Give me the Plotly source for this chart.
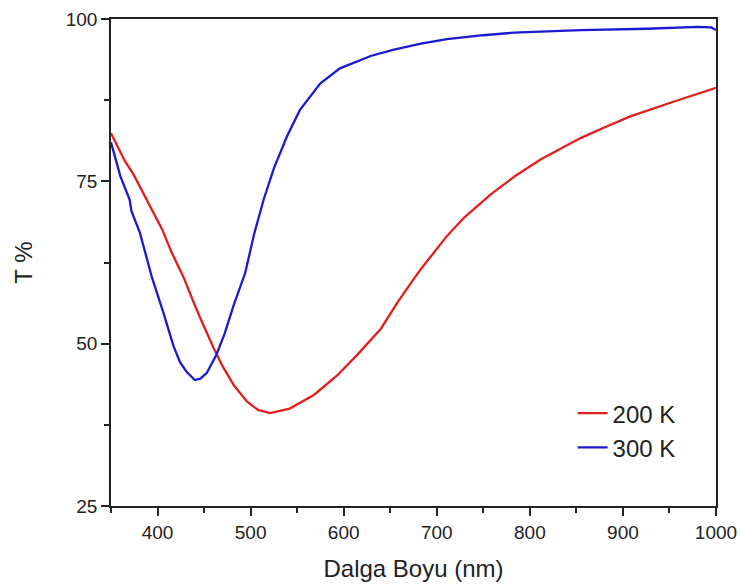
import plotly.graph_objects as go

# 200 K series
wl_200 = [350, 365, 374, 392, 405, 415, 428, 439, 446, 460, 470, 482, 496, 508,
          521, 542, 568, 593, 614, 640, 658, 675, 683, 711, 730, 758, 785, 812,
          855, 880, 908, 955, 980, 1000]
t_200 = [82.4, 78.1, 76.1, 71.2, 67.6, 64.1, 60.2, 56.3, 53.9, 49.4, 46.5, 43.6,
         41.1, 39.8, 39.3, 40.0, 42.1, 45.1, 48.2, 52.3, 56.4, 59.9, 61.5, 66.6,
         69.5, 73.0, 75.9, 78.4, 81.7, 83.3, 85.0, 87.3, 88.4, 89.4]

# 300 K series
wl_300 = [350, 355, 360, 370, 372, 381, 394, 406, 417, 424, 431, 440, 446, 453,
          463, 472, 482, 494, 504, 514, 525, 539, 553, 575, 596, 629, 654, 683,
          711, 750, 783, 855, 926, 980, 995, 1000]
t_300 = [81.0, 78.5, 75.8, 72.2, 70.4, 67.1, 60.2, 54.9, 49.7, 47.2, 45.7, 44.4,
         44.6, 45.5, 48.2, 51.5, 56.0, 60.8, 67.0, 72.2, 77.0, 81.9, 86.0, 90.1,
         92.4, 94.3, 95.3, 96.2, 96.9, 97.5, 97.9, 98.3, 98.5, 98.8, 98.7, 98.3]

series_names = ["200 K", "300 K"]
x_ticks = [400, 500, 600, 700, 800, 900, 1000]
y_ticks = [25, 50, 75, 100]

FONT = "Liberation Sans, Arial, sans-serif"
AX = "#222222"

fig = go.Figure()
fig.add_trace(go.Scatter(x=wl_200, y=t_200, mode="lines", name=series_names[0],
                         line=dict(color="#e31e1e", width=2.3)))
fig.add_trace(go.Scatter(x=wl_300, y=t_300, mode="lines", name=series_names[1],
                         line=dict(color="#1a1ad0", width=2.3)))

axis_common = dict(
    showgrid=False, zeroline=False, showline=True, linecolor=AX,
    linewidth=1.5, mirror=True, ticks="outside", ticklen=8, tickwidth=1.5,
    tickcolor=AX, tickfont=dict(family=FONT, size=19, color=AX),
    automargin=False,
)

fig.update_xaxes(range=[350, 1000], tickvals=x_ticks,
                 minor=dict(ticks="outside", ticklen=5, tickwidth=1.5,
                            tickcolor=AX, dtick=50, tick0=0),
                 title=dict(text="Dalga Boyu (nm)", font=dict(family=FONT, size=24, color=AX),
                            standoff=19),
                 **axis_common)
fig.update_yaxes(range=[25, 100], tickvals=y_ticks,
                 minor=dict(ticks="outside", ticklen=5, tickwidth=1.5,
                            tickcolor=AX, dtick=12.5, tick0=0),
                 title=dict(text="T %", font=dict(family=FONT, size=24, color=AX),
                            standoff=26),
                 **axis_common)

fig.update_layout(
    width=740, height=586,
    margin=dict(l=111, r=24, t=19, b=80),
    plot_bgcolor="white", paper_bgcolor="white",
    legend=dict(x=0.763, y=0.236, xanchor="left", yanchor="top",
                font=dict(family=FONT, size=24, color=AX),
                bgcolor="rgba(0,0,0,0)", tracegroupgap=0, itemwidth=30),
)

fig.write_html("out.html")
